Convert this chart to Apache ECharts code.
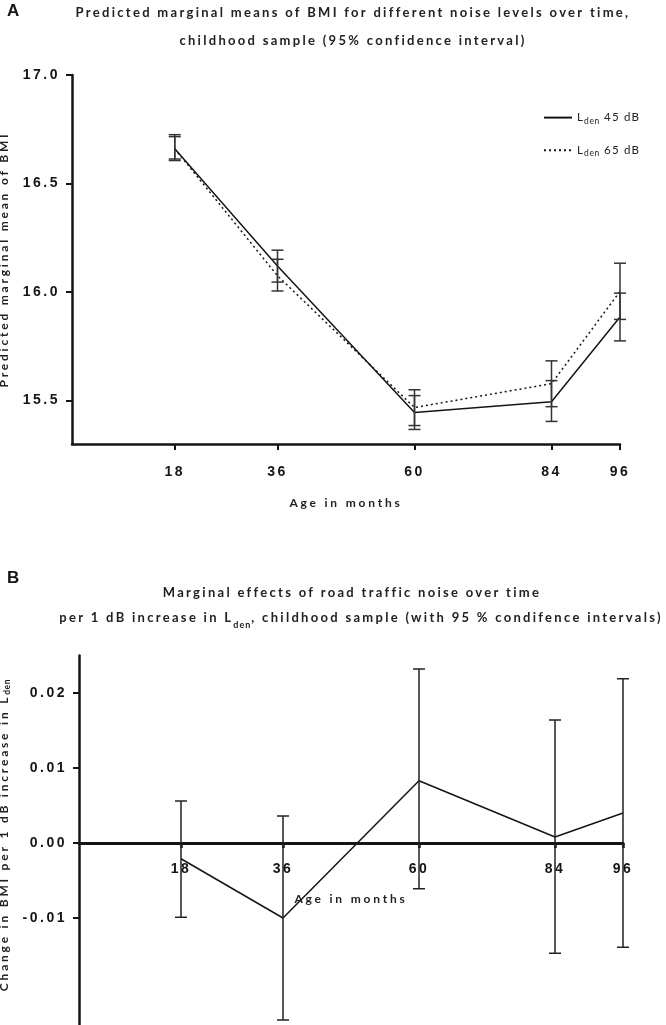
<!DOCTYPE html>
<html><head><meta charset="utf-8">
<script src="https://cdn.jsdelivr.net/npm/echarts@6/dist/echarts.min.js"></script>
<style>html,body{margin:0;padding:0;background:#fff}#c{width:666px;height:1025px}</style>
</head><body><div id="c"></div>
<script>
// ---------- data ----------
const months = [18, 36, 60, 84, 96];
const monthTicks = [18, 36, 60, 84, 96];
const bmiTicks = [15.5, 16.0, 16.5, 17.0];
const effectTicks = [-0.01, 0.00, 0.01, 0.02];

const mean45 = [16.660, 16.120, 15.445, 15.495, 15.885];
const low45  = [16.606, 16.046, 15.367, 15.404, 15.775];
const high45 = [16.716, 16.193, 15.523, 15.592, 15.995];

const mean65 = [16.660, 16.075, 15.468, 15.578, 16.003];
const low65  = [16.613, 16.005, 15.385, 15.472, 15.874];
const high65 = [16.725, 16.151, 15.550, 15.683, 16.133];

const effect     = [-0.0021, -0.0100, 0.0083, 0.0008, 0.0040];
const effectLow  = [-0.0099, -0.0236, -0.0061, -0.0147, -0.0139];
const effectHigh = [ 0.0056,  0.0036, 0.0232, 0.0164, 0.0219];

// ---------- letter spacing (reference text is tracked out) ----------
const SPACING = {'14px':'2.5px','13px':'2.3px','12px':'2.8px','11.5px':'1.2px','9px':'1px','8.5px':'0.6px','17px':'0px'};
function applySpacing(ctx){
  if (!('letterSpacing' in ctx)) return;
  const m = /(\d+(?:\.\d+)?)px/.exec(ctx.font);
  ctx.letterSpacing = (m && SPACING[m[1] + 'px']) || '0px';
}
const _fill = CanvasRenderingContext2D.prototype.fillText;
CanvasRenderingContext2D.prototype.fillText = function(){ applySpacing(this); return _fill.apply(this, arguments); };
const _stroke = CanvasRenderingContext2D.prototype.strokeText;
CanvasRenderingContext2D.prototype.strokeText = function(){ applySpacing(this); return _stroke.apply(this, arguments); };
const _measure = CanvasRenderingContext2D.prototype.measureText;
CanvasRenderingContext2D.prototype.measureText = function(){ applySpacing(this); return _measure.apply(this, arguments); };

// ---------- helpers ----------
const INK = '#151515';
const tickFont = {fontFamily:'Liberation Sans', fontWeight:'bold', fontSize:14, color:INK};
const nameFont = {fontFamily:'Lato', fontWeight:'bold', fontSize:12, color:'#222'};
const subRich = {
  a:{fontFamily:'Lato', fontWeight:'bold', fontSize:12, color:'#222', lineHeight:16, verticalAlign:'middle'},
  s:{fontFamily:'Lato', fontWeight:'bold', fontSize:8.5, color:'#222', lineHeight:8, verticalAlign:'bottom'}
};
const titleRich = {
  t:{fontFamily:'Lato', fontWeight:'bold', fontSize:13, fill:'#222', color:'#222', lineHeight:25, verticalAlign:'middle'},
  s:{fontFamily:'Lato', fontWeight:'bold', fontSize:9, fill:'#222', color:'#222', lineHeight:10, verticalAlign:'bottom'}
};

function errBars(lo, hi, half, color){
  return {
    type:'custom',
    data: months.map((m,i)=>[m, lo[i], hi[i]]),
    encode:{x:0, y:[1,2]},
    silent:true, z:4,
    renderItem:function(params, api){
      const p1 = api.coord([api.value(0), api.value(1)]);
      const p2 = api.coord([api.value(0), api.value(2)]);
      const st = {stroke:color, lineWidth:1.5};
      return {type:'group', children:[
        {type:'line', shape:{x1:p1[0], y1:p1[1], x2:p2[0], y2:p2[1]}, style:st},
        {type:'line', shape:{x1:p1[0]-half, y1:p1[1], x2:p1[0]+half, y2:p1[1]}, style:st},
        {type:'line', shape:{x1:p2[0]-half, y1:p2[1], x2:p2[0]+half, y2:p2[1]}, style:st}
      ]};
    }
  };
}

const chart = echarts.init(document.getElementById('c'), null, {renderer:'canvas'});

const hidden = {color:'rgba(0,0,0,0)', borderColor:'rgba(0,0,0,0)', borderWidth:0, opacity:0};

const option = {
  animation:false,
  backgroundColor:'#ffffff',
  graphic:[
    {type:'text', left:7, top:3, style:{text:'A', font:'bold 17px "Liberation Sans"', fill:INK}},
    {type:'text', left:7, top:570, style:{text:'B', font:'bold 17px "Liberation Sans"', fill:INK}},
    {type:'text', x:353, y:-1, style:{
      text:'Predicted marginal means of BMI for different noise levels over time,\nchildhood sample (95% confidence interval)',
      font:'bold 13px Lato', fill:'#222', textAlign:'center', lineHeight:28}},
    {type:'text', x:352, y:580, style:{
      text:'{t|Marginal effects of road traffic noise over time}',
      textAlign:'center', rich:titleRich}},
    {type:'text', x:361, y:605, style:{
      text:'{t|per 1 dB increase in L}{s|den}{t|, childhood sample (with 95 % condifence intervals)}',
      textAlign:'center', rich:titleRich}}
  ],
  legend:{
    orient:'vertical', left:543, top:111, padding:0,
    itemWidth:28, itemHeight:12, itemGap:18,
    data:['Lden 45 dB','Lden 65 dB'],
    itemStyle:hidden,
    formatter:function(n){ return '{a|L}{s|den}{a| ' + n.split(' ').slice(1).join(' ') + '}'; },
    textStyle:{rich:{
      a:{fontFamily:'Lato', fontSize:11.5, color:'#222', lineHeight:16, verticalAlign:'middle'},
      s:{fontFamily:'Lato', fontSize:8.5, color:'#222', lineHeight:8, verticalAlign:'bottom'}
    }}
  },
  grid:[
    {left:72, top:75, width:548, height:369, outerBoundsMode:'none', containLabel:false},
    {left:79, top:655.5, width:544, height:375, outerBoundsMode:'none', containLabel:false}
  ],
  xAxis:[
    {type:'value', gridIndex:0, min:0, max:96,
     axisLine:{show:true, onZero:false, lineStyle:{color:INK, width:2.5}},
     axisTick:{show:true, customValues:monthTicks, length:6, lineStyle:{color:INK, width:2}},
     axisLabel:{customValues:monthTicks, margin:20, ...tickFont},
     splitLine:{show:false},
     name:'Age in months', nameLocation:'middle', nameGap:52, nameTextStyle:nameFont},
    {type:'value', gridIndex:1, min:0, max:96, position:'bottom', offset:-187.5,
     axisLine:{show:true, onZero:false, lineStyle:{color:INK, width:3}},
     axisTick:{show:true, customValues:monthTicks, length:5, lineStyle:{color:INK, width:2.5}},
     axisLabel:{customValues:monthTicks, margin:18, ...tickFont},
     splitLine:{show:false},
     name:'Age in months', nameLocation:'middle', nameGap:49, nameTextStyle:nameFont}
  ],
  yAxis:[
    {type:'value', gridIndex:0, min:15.3, max:17.0,
     axisLine:{show:true, lineStyle:{color:INK, width:2.5}},
     axisTick:{show:true, customValues:bmiTicks, length:6, lineStyle:{color:INK, width:2}},
     axisLabel:{customValues:bmiTicks, margin:12, formatter:v=>Number(v).toFixed(1), ...tickFont},
     splitLine:{show:false},
     name:'Predicted marginal mean of BMI', nameLocation:'middle', nameGap:58, nameRotate:90, nameTextStyle:nameFont},
    {type:'value', gridIndex:1, min:-0.025, max:0.025,
     axisLine:{show:true, onZero:false, lineStyle:{color:INK, width:2.5}},
     axisTick:{show:true, customValues:effectTicks, length:6, lineStyle:{color:INK, width:2}},
     axisLabel:{customValues:effectTicks, margin:12, formatter:v=>Number(v).toFixed(2), ...tickFont},
     splitLine:{show:false},
     name:'{a|Change in BMI per 1 dB increase in L}{s|den}', nameLocation:'middle', nameGap:58, nameRotate:90,
     nameTextStyle:{rich:subRich, padding:[0,0,0,16]}}
  ],
  series:[
    {type:'line', name:'Lden 45 dB', xAxisIndex:0, yAxisIndex:0, symbol:'none', z:3,
     data:months.map((m,i)=>[m, mean45[i]]), lineStyle:{color:INK, width:1.5, type:'solid'}, itemStyle:{color:INK}},
    {type:'line', name:'Lden 65 dB', xAxisIndex:0, yAxisIndex:0, symbol:'none', z:3,
     data:months.map((m,i)=>[m, mean65[i]]), lineStyle:{color:INK, width:1.5, type:[2,3]}, itemStyle:{color:INK}},
    Object.assign(errBars(low45, high45, 6, '#333'), {xAxisIndex:0, yAxisIndex:0}),
    Object.assign(errBars(low65, high65, 6, '#333'), {xAxisIndex:0, yAxisIndex:0}),
    {type:'line', name:'effect', xAxisIndex:1, yAxisIndex:1, symbol:'none', z:3,
     data:months.map((m,i)=>[m, effect[i]]), lineStyle:{color:INK, width:1.5}},
    Object.assign(errBars(effectLow, effectHigh, 6, '#222'), {xAxisIndex:1, yAxisIndex:1})
  ]
};
chart.setOption(option);
</script></body></html>
